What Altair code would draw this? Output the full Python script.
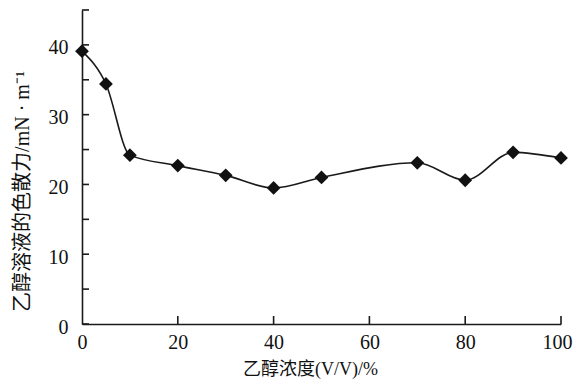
import altair as alt
import pandas as pd

# data
conc = [0, 5, 10, 20, 30, 40, 50, 70, 80, 90, 100]
disp = [39.1, 34.4, 24.2, 22.7, 21.3, 19.5, 21.0, 23.1, 20.6, 24.6, 23.8]
y_ticks = [0, 5, 10, 15, 20, 25, 30, 35, 40, 45]
x_ticks = [20, 40, 60, 80, 100]
y_labels = [0, 10, 20, 30, 40]

df = pd.DataFrame({"x": conc, "y": disp})
yt = pd.DataFrame({"t": y_ticks})
xt = pd.DataFrame({"t": x_ticks})

W, H = 479, 314
FONT = "Liberation Serif, Noto Sans CJK SC"

xscale = alt.Scale(domain=[0, 100], nice=False, zero=False)
yscale = alt.Scale(domain=[0, 45], nice=False)

xaxis = alt.Axis(
    values=[0] + x_ticks, format="d", ticks=False, grid=False, offset=0,
    labelFlush=False,
    labelAlign={"condition": {"test": "datum.value == 100", "value": "right"}, "value": "center"},
    labelOffset={"condition": {"test": "datum.value == 100", "value": 11}, "value": 0},
    domainColor="#1a1a1a", domainWidth=1.6,
    labelFont=FONT, labelFontSize=20, labelColor="#111", labelPadding=8,
    title="乙醇浓度(V/V)/%", titleFont=FONT, titleFontSize=18,
    titleFontWeight="normal", titleColor="#111",
    titleX=228, titleY=45, titleBaseline="middle", titleAlign="center",
)
yaxis = alt.Axis(
    values=y_labels, format="d", ticks=False, grid=False, offset=0,
    labelFlush=False, labelOffset=3,
    domainColor="#1a1a1a", domainWidth=1.6,
    labelFont=FONT, labelFontSize=20, labelColor="#111", labelPadding=14,
    title="乙醇溶液的色散力/mN · m⁻¹", titleFont=FONT, titleFontSize=20,
    titleFontWeight="normal", titleColor="#111",
    titleX=-60, titleY=181, titleAngle=270, titleBaseline="middle",
    titleAlign="center",
)

line = alt.Chart(df).mark_line(color="#1a1a1a", strokeWidth=1.6, interpolate="monotone").encode(
    x=alt.X("x:Q", scale=xscale, axis=xaxis),
    y=alt.Y("y:Q", scale=yscale, axis=yaxis),
)
pts = alt.Chart(df).mark_point(shape="diamond", filled=True, color="#111", size=190, opacity=1).encode(
    x=alt.X("x:Q", scale=xscale),
    y=alt.Y("y:Q", scale=yscale),
)
ytick = alt.Chart(yt).mark_rule(color="#1a1a1a", strokeWidth=1.6).encode(
    y=alt.Y("t:Q", scale=yscale),
    x=alt.value(0),
    x2=alt.value(7),
)
xtick = alt.Chart(xt).mark_rule(color="#1a1a1a", strokeWidth=1.6).encode(
    x=alt.X("t:Q", scale=xscale),
    y=alt.value(H),
    y2=alt.value(H - 8),
)

chart = alt.layer(line, ytick, xtick, pts).properties(
    width=W, height=H,
    padding={"left": 82, "top": 10, "right": 12, "bottom": 59},
    autosize=alt.AutoSizeParams(type="none"),
    background="white",
).configure_view(stroke=None)

chart.save("out.html", embed_options={"renderer": "svg", "actions": False})
